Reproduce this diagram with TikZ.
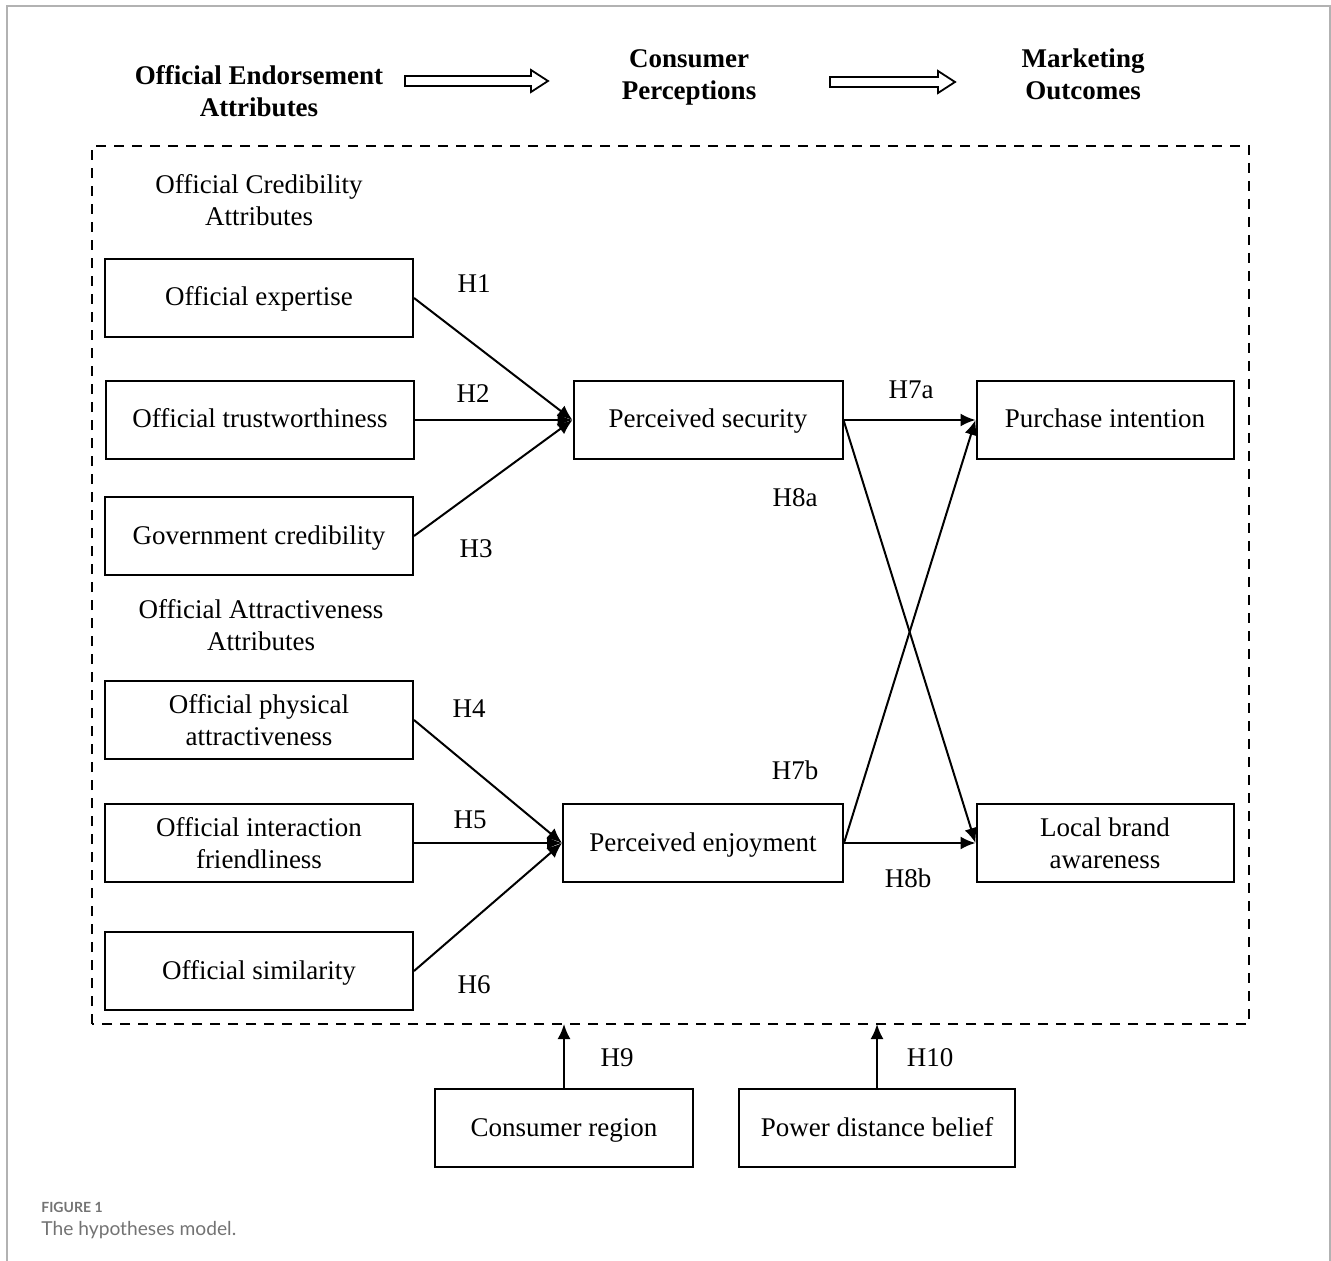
\documentclass[tikz,border=0pt]{standalone}
\usepackage{fontspec}
\setmainfont{Liberation Serif}
\newfontfamily\capfont{Lato}
\usetikzlibrary{arrows.meta,positioning}

% hollow block arrow between the three column titles
\newcommand{\fatarrow}[3]{%
  \draw[line width=0.9pt] (#1,#3-5) -- (#2-17,#3-5) -- (#2-17,#3-11) -- (#2,#3)
    -- (#2-17,#3+11) -- (#2-17,#3+5) -- (#1,#3+5) -- cycle;}

\tikzset{
  box/.style={draw, line width=1pt, minimum height=39pt, inner sep=2pt,
    align=center, font=\fontsize{13.5}{16}\selectfont},
  onebox/.style={box, text height=9.5pt, text depth=1.5pt},
  lbl/.style={font=\fontsize{13.5}{16}\selectfont, inner sep=0pt},
  head/.style={font=\fontsize{13.5}{16}\selectfont\bfseries, align=center, inner sep=0pt},
  grp/.style={font=\fontsize{13.5}{16}\selectfont, align=center, inner sep=0pt},
  conn/.style={line width=1pt, -{Latex[length=7.5pt,width=6.5pt]}},
}

\begin{document}
\begin{tikzpicture}[x=0.5pt,y=-0.5pt]
  \useasboundingbox (0,0) rectangle (1331,1261);
  % page frame
  \draw[black!30, line width=1pt] (7,1261) -- (7,6) -- (1330,6) -- (1330,1261);

  % column titles
  \node[head] (t1) at (259,91) {Official Endorsement\\Attributes};
  \node[head] (t2) at (689,77) {Consumer\\Perceptions};
  \node[head] (t3) at (1083,74) {Marketing\\Outcomes};
  \fatarrow{405}{548}{81}
  \fatarrow{830}{955}{82}

  % dashed frame
  \coordinate (fsw) at (92,1024);
  \coordinate (fne) at (1249,146);
  \draw[line width=1pt, dash pattern=on 5pt off 4pt] (fsw) rectangle (fne);

  \node[grp] (g1) at (259,200) {Official Credibility\\Attributes};
  \node[grp] (g2) at (261,625) {Official Attractiveness\\Attributes};

  % endorsement attributes
  \node[onebox, minimum width=154pt] (oe) at (259,298) {Official expertise};
  \node[onebox, minimum width=154pt] (ot) at (260,420) {Official trustworthiness};
  \node[onebox, minimum width=154pt] (gc) at (259,536) {Government credibility};
  \node[box, minimum width=154pt] (op) at (259,720) {Official physical\\attractiveness};
  \node[box, minimum width=154pt] (oi) at (259,843) {Official interaction\\friendliness};
  \node[onebox, minimum width=154pt] (os) at (259,971) {Official similarity};

  % perceptions
  \node[onebox, minimum width=134.5pt] (ps) at (708,420) {Perceived security};
  \node[onebox, minimum width=140pt] (pe) at (703,843) {Perceived enjoyment};

  % outcomes
  \node[onebox, minimum width=128.5pt] (pi) at (1105,420) {Purchase intention};
  \node[box, minimum width=128.5pt] (lb) at (1105,843) {Local brand\\awareness};

  % moderators
  \node[onebox, minimum width=129pt] (cr) at (564,1128) {Consumer region};
  \node[onebox, minimum width=138pt] (pd) at (877,1128) {Power distance belief};

  \draw[conn] (oe.east) -- (ps.west);
  \draw[conn] (ot.east) -- (ps.west);
  \draw[conn] (gc.east) -- (ps.west);
  \draw[conn] (op.east) -- (pe.west);
  \draw[conn] (oi.east) -- (pe.west);
  \draw[conn] (os.east) -- (pe.west);
  \draw[conn] (ps.east) -- (pi.west);
  \draw[conn] (ps.east) -- (lb.west);
  \draw[conn] (pe.east) -- (pi.west);
  \draw[conn] (pe.east) -- (lb.west);
  \draw[conn] (cr.north) -- (cr.north |- fsw);
  \draw[conn] (pd.north) -- (pd.north |- fsw);

  \node[lbl] (h1) at (474,284) {H1};
  \node[lbl] (h2) at (473,394) {H2};
  \node[lbl] (h3) at (476,549) {H3};
  \node[lbl] (h4) at (469,709) {H4};
  \node[lbl] (h5) at (470,820) {H5};
  \node[lbl] (h6) at (474,985) {H6};
  \node[lbl] (h7a) at (911,390) {H7a};
  \node[lbl] (h8a) at (795,498) {H8a};
  \node[lbl] (h7b) at (795,770) {H7b};
  \node[lbl] (h8b) at (908,878) {H8b};
  \node[lbl] (h9) at (617,1058) {H9};
  \node[lbl] (h10) at (930,1058) {H10};

  % caption
  \node[anchor=west, inner sep=0pt, text=black!55, font=\capfont\fontsize{7}{8}\selectfont\bfseries] (fig) at (41,1207) {FIGURE 1};
  \node[anchor=west, inner sep=0pt, text=black!55, font=\capfont\fontsize{9.6}{11}\selectfont] (cap) at (41,1230) {The hypotheses model.};
\end{tikzpicture}
\end{document}
